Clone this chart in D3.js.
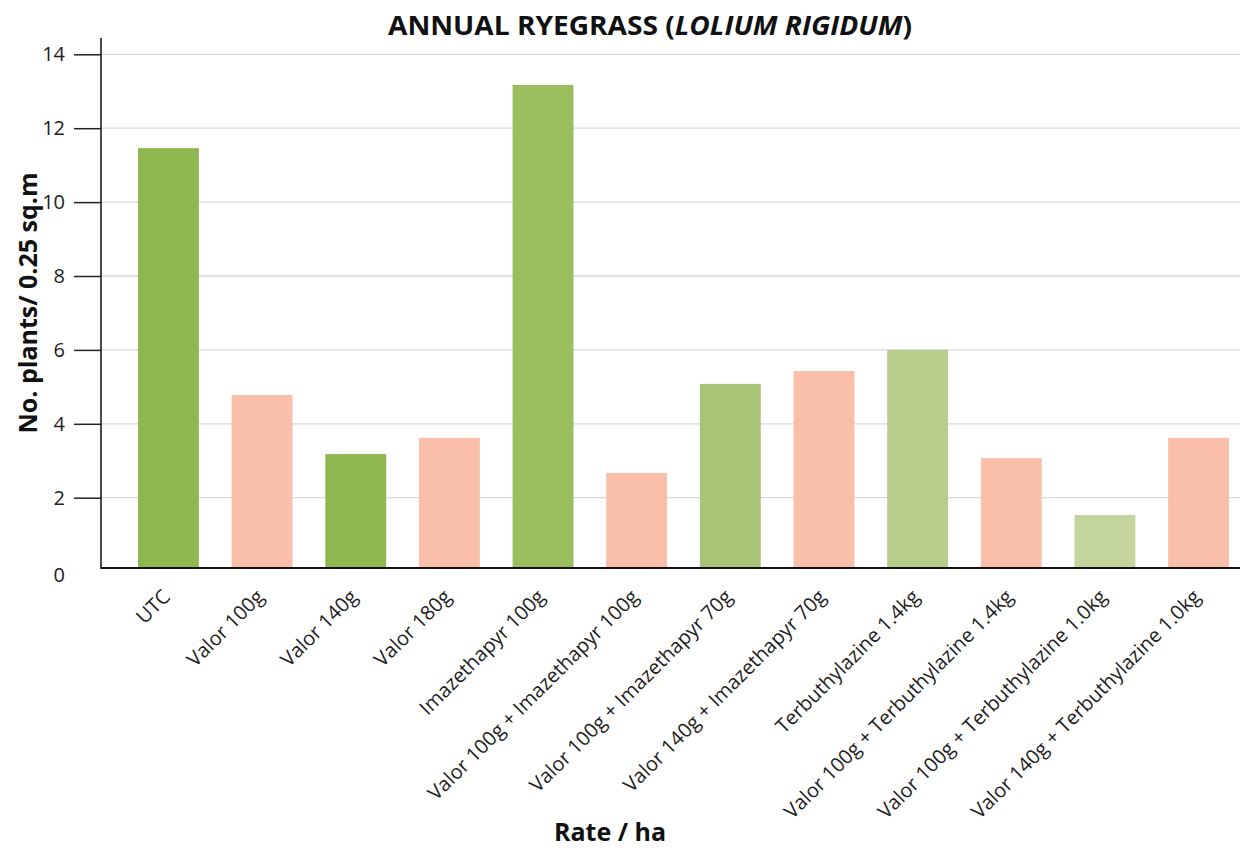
<!DOCTYPE html>
<html>
<head>
<meta charset="utf-8">
<script src="https://cdn.jsdelivr.net/npm/d3@7"></script>
<style>
  body { margin: 0; background: #fff; }
  svg { display: block; font-family: "Open Sans", "Noto Sans", sans-serif; }
</style>
</head>
<body>
<svg id="chart" width="1244" height="848"></svg>
<script>
// treatments
const treatments = [
  "UTC", "Valor 100g", "Valor 140g", "Valor 180g", "Imazethapyr 100g",
  "Valor 100g + Imazethapyr 100g", "Valor 100g + Imazethapyr 70g",
  "Valor 140g + Imazethapyr 70g", "Terbuthylazine 1.4kg",
  "Valor 100g + Terbuthylazine 1.4kg", "Valor 100g + Terbuthylazine 1.0kg",
  "Valor 140g + Terbuthylazine 1.0kg"
];
// plants per 0.25 sq.m
const plants = [11.46, 4.78, 3.18, 3.62, 13.17, 2.67, 5.08, 5.43, 6.0, 3.07, 1.53, 3.62];
// bar colours
const barColors = ["#8fb750", "#f9bfa8", "#8fb750", "#f9bfa8", "#9bbd5e", "#f9bfa8",
  "#a8c577", "#f9bfa8", "#b6cd8b", "#f9bfa8", "#c4d49d", "#f9bfa8"];
const yTicks = [0, 2, 4, 6, 8, 10, 12, 14];

const svg = d3.select("#chart");

const axisX = 101;      // y axis position
const baseY = 568;      // x axis position
const gridEnd = 1240;

const x = d3.scaleBand().domain(treatments).range([101, 1266])
  .paddingInner(0.35).paddingOuter(0.395);
const y = d3.scaleLinear().domain([0, 14]).range([571.6, 54.3]);

// gridlines
svg.append("g").selectAll("line").data(yTicks.filter(d => d > 0)).join("line")
  .attr("x1", axisX).attr("x2", gridEnd)
  .attr("y1", d => y(d)).attr("y2", d => y(d))
  .attr("stroke", "#d9d9d9").attr("stroke-width", 1.3);

// bars
svg.append("g").selectAll("rect").data(treatments).join("rect")
  .attr("x", d => x(d))
  .attr("width", x.bandwidth())
  .attr("y", (d, i) => y(plants[i]))
  .attr("height", (d, i) => baseY - y(plants[i]))
  .attr("fill", (d, i) => barColors[i]);

// y axis
const yAxis = svg.append("g").attr("transform", `translate(${axisX},0)`)
  .call(d3.axisLeft(y).tickValues(yTicks).tickSize(27).tickPadding(9));
yAxis.select(".domain").remove();
yAxis.selectAll(".tick line").attr("stroke", "#222").attr("stroke-width", 1.5)
  .attr("display", d => d === 0 ? "none" : null);
yAxis.selectAll(".tick text").attr("font-size", 20).attr("fill", "#222")
  .attr("font-family", "Open Sans, sans-serif");
yAxis.select(".tick text").attr("dy", "0.5em");

svg.append("line").attr("x1", axisX).attr("x2", axisX).attr("y1", 38).attr("y2", baseY + 1)
  .attr("stroke", "#111").attr("stroke-width", 1.5);
svg.append("line").attr("x1", axisX).attr("x2", gridEnd).attr("y1", baseY).attr("y2", baseY)
  .attr("stroke", "#111").attr("stroke-width", 1.8);

// x labels
svg.append("g").selectAll("text").data(treatments).join("text")
  .attr("transform", d => `translate(${x(d) + x.bandwidth() / 2 + 3},${baseY + 30}) rotate(-45)`)
  .attr("text-anchor", "end")
  .attr("font-size", 20)
  .attr("fill", "#222")
  .text(d => d);

// titles
const title = svg.append("text").attr("x", 650).attr("y", 35)
  .attr("text-anchor", "middle").attr("font-size", 27).attr("font-weight", "bold")
  .attr("fill", "#111").attr("textLength", 524).attr("lengthAdjust", "spacingAndGlyphs");
title.append("tspan").text("ANNUAL RYEGRASS (");
title.append("tspan").attr("font-style", "italic").text("LOLIUM RIGIDUM");
title.append("tspan").text(")");

svg.append("text").attr("x", 610).attr("y", 841).attr("text-anchor", "middle")
  .attr("font-size", 25).attr("font-weight", "bold").attr("fill", "#111")
  .text("Rate / ha");

svg.append("text").attr("transform", "translate(37,303) rotate(-90)")
  .attr("text-anchor", "middle").attr("font-size", 25).attr("font-weight", "bold")
  .attr("fill", "#111").text("No. plants/ 0.25 sq.m");
</script>
</body>
</html>
